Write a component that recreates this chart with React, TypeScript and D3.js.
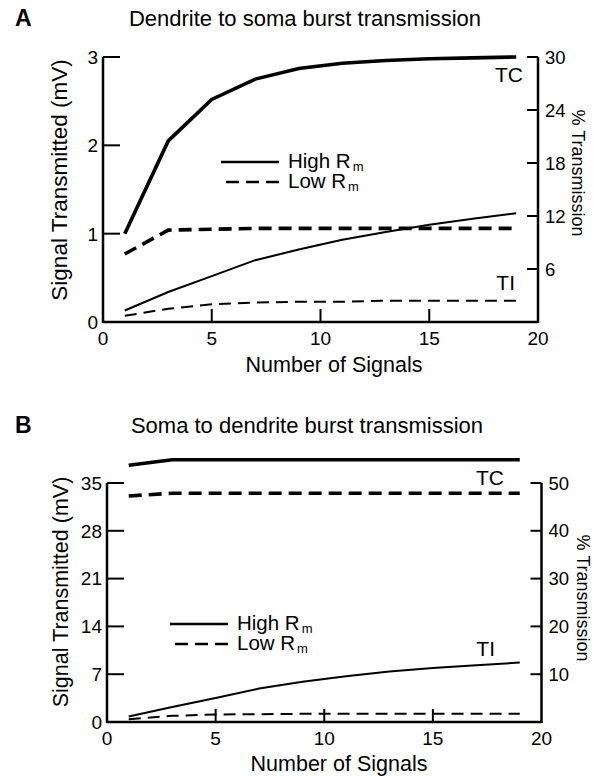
import { useEffect, useRef } from 'react'
import * as d3 from 'd3'

// number of signals (x)
const signals = [1, 3, 5, 7, 9, 11, 13, 15, 17, 19]

// Panel A - dendrite to soma (mV)
const aTcHigh = [1.0, 2.05, 2.52, 2.75, 2.87, 2.93, 2.96, 2.98, 2.99, 3.0]
const aTcLow = [0.77, 1.04, 1.05, 1.06, 1.06, 1.06, 1.06, 1.06, 1.06, 1.06]
const aTiHigh = [0.13, 0.34, 0.52, 0.7, 0.82, 0.93, 1.02, 1.1, 1.17, 1.23]
const aTiLow = [0.07, 0.15, 0.2, 0.22, 0.23, 0.23, 0.24, 0.24, 0.24, 0.24]

// Panel B - soma to dendrite (mV)
const bTcHigh = [37.6, 38.4, 38.4, 38.4, 38.4, 38.4, 38.4, 38.4, 38.4, 38.4]
const bTcLow = [33.1, 33.5, 33.5, 33.5, 33.5, 33.5, 33.5, 33.5, 33.5, 33.5]
const bTiHigh = [0.8, 2.2, 3.5, 4.9, 5.9, 6.7, 7.4, 7.9, 8.3, 8.7]
const bTiLow = [0.4, 0.9, 1.1, 1.15, 1.2, 1.2, 1.2, 1.2, 1.2, 1.2]

const xTicks = [0, 5, 10, 15, 20]
const aLeftTicks = [0, 1, 2, 3]
const aRightTicks = [6, 12, 18, 24, 30]
const bLeftTicks = [0, 7, 14, 21, 28, 35]
const bRightTicks = [10, 20, 30, 40, 50]

const FONT = 'Liberation Sans, Arial, Helvetica, sans-serif'

function drawPanel(svg, p) {
  const g = svg.append('g')
  const x = d3.scaleLinear().domain([0, 20]).range([p.left, p.right])
  const yL = d3.scaleLinear().domain([0, p.leftMax]).range([p.bottom, p.top])
  const yR = d3.scaleLinear().domain([0, p.rightMax]).range([p.bottom, p.top])

  // panel letter + title
  g.append('text').attr('x', 15).attr('y', p.titleY)
    .attr('font-size', 23).attr('font-weight', 'bold').text(p.letter)
  g.append('text').attr('x', p.titleX).attr('y', p.titleY)
    .attr('text-anchor', 'middle').attr('font-size', 22).text(p.title)

  // axes lines
  const axisStroke = 2.5
  g.append('line').attr('x1', x(0)).attr('x2', x(20)).attr('y1', p.bottom).attr('y2', p.bottom)
    .attr('stroke', '#000').attr('stroke-width', axisStroke)
  g.append('line').attr('x1', x(0)).attr('x2', x(0)).attr('y1', p.bottom + 1).attr('y2', yL(p.leftMax))
    .attr('stroke', '#000').attr('stroke-width', axisStroke)
  g.append('line').attr('x1', x(20)).attr('x2', x(20)).attr('y1', p.bottom + 1).attr('y2', yR(p.rightMax))
    .attr('stroke', '#000').attr('stroke-width', axisStroke)

  // x ticks
  xTicks.forEach(t => {
    if (t > 0 && t < 20) {
      g.append('line').attr('x1', x(t)).attr('x2', x(t)).attr('y1', p.bottom).attr('y2', p.bottom - 13)
        .attr('stroke', '#000').attr('stroke-width', 2)
    }
    g.append('text').attr('x', x(t)).attr('y', p.bottom + 23)
      .attr('text-anchor', 'middle').attr('font-size', 19).text(t)
  })

  // left ticks
  p.leftTicks.forEach(t => {
    g.append('line').attr('x1', x(0)).attr('x2', x(0) + 17).attr('y1', yL(t)).attr('y2', yL(t))
      .attr('stroke', '#000').attr('stroke-width', 2)
    g.append('text').attr('x', x(0) - 5).attr('y', yL(t)).attr('dy', '0.36em')
      .attr('text-anchor', 'end').attr('font-size', 19).text(t)
  })

  // right ticks
  p.rightTicks.forEach(t => {
    g.append('line').attr('x1', x(20)).attr('x2', x(20) - 11).attr('y1', yR(t)).attr('y2', yR(t))
      .attr('stroke', '#000').attr('stroke-width', 2)
    g.append('text').attr('x', x(20) + 7).attr('y', yR(t)).attr('dy', '0.36em')
      .attr('font-size', 18.5).text(t)
  })

  // axis titles
  g.append('text').attr('x', p.xTitleX).attr('y', p.xTitleY)
    .attr('text-anchor', 'middle').attr('font-size', 21.5).text('Number of Signals')
  g.append('text').attr('transform', `translate(${p.yTitleX},${p.yTitleY}) rotate(-90)`)
    .attr('text-anchor', 'middle').attr('font-size', p.yTitleSize).text('Signal Transmitted (mV)')
  g.append('text').attr('transform', `translate(${p.rTitleX},${p.rTitleY}) rotate(90)`)
    .attr('text-anchor', 'middle').attr('font-size', 18).text('% Transmission')

  // series
  const line = d3.line().x(d => x(d[0])).y(d => yL(d[1]))
  const series = [
    { v: p.tcHigh, w: 3.6, dash: null },
    { v: p.tcLow, w: 3.6, dash: '13,7' },
    { v: p.tiHigh, w: 2, dash: null },
    { v: p.tiLow, w: 2, dash: '12,7' },
  ]
  series.forEach(s => {
    g.append('path')
      .attr('d', line(signals.map((xv, i) => [xv, s.v[i]])))
      .attr('fill', 'none').attr('stroke', '#000').attr('stroke-width', s.w)
      .attr('stroke-dasharray', s.dash)
  })

  // TC / TI labels
  g.append('text').attr('x', p.tcX).attr('y', p.tcY).attr('text-anchor', 'end')
    .attr('font-size', 21).text('TC')
  g.append('text').attr('x', p.tiX).attr('y', p.tiY).attr('text-anchor', 'end')
    .attr('font-size', 21).text('TI')

  // legend
  const lg = g.append('g').attr('transform', `translate(${p.legX},${p.legY})`)
  lg.append('line').attr('x1', 0).attr('x2', 58).attr('y1', 0).attr('y2', 0)
    .attr('stroke', '#000').attr('stroke-width', 2.4)
  lg.append('line').attr('x1', 5).attr('x2', 58).attr('y1', 20).attr('y2', 20)
    .attr('stroke', '#000').attr('stroke-width', 2.4).attr('stroke-dasharray', '13,7')
  const labels = ['High R', 'Low R']
  labels.forEach((l, i) => {
    const t = lg.append('text').attr('x', 67).attr('y', 6 + i * 20).attr('font-size', 20.5).attr('fill', '#000')
    t.append('tspan').attr('fill', '#000').text(l)
    t.append('tspan').attr('fill', '#000').attr('dx', 2).attr('dy', 3).attr('font-size', 13).text('m')
  })
}

export default function App() {
  const svgRef = useRef(null)

  useEffect(() => {
    const svg = d3.select(svgRef.current)
    svg.selectAll('*').remove()
    svg.attr('font-family', FONT).attr('fill', '#000')

    drawPanel(svg, {
      letter: 'A', title: 'Dendrite to soma burst transmission', titleX: 305, titleY: 26,
      left: 103, right: 538, top: 57, bottom: 322,
      leftMax: 3, rightMax: 30, leftTicks: aLeftTicks, rightTicks: aRightTicks,
      xTitleX: 334, xTitleY: 372, yTitleX: 67, yTitleY: 180, yTitleSize: 22.5,
      rTitleX: 572, rTitleY: 173,
      tcHigh: aTcHigh, tcLow: aTcLow, tiHigh: aTiHigh, tiLow: aTiLow,
      tcX: 523, tcY: 82, tiX: 515, tiY: 290,
      legX: 221, legY: 162,
    })

    drawPanel(svg, {
      letter: 'B', title: 'Soma to dendrite burst transmission', titleX: 307, titleY: 433,
      left: 107, right: 541.5, top: 483, bottom: 722,
      leftMax: 35, rightMax: 50, leftTicks: bLeftTicks, rightTicks: bRightTicks,
      xTitleX: 339, xTitleY: 771, yTitleX: 68, yTitleY: 592, yTitleSize: 21.5,
      rTitleX: 577, rTitleY: 598,
      tcHigh: bTcHigh, tcLow: bTcLow, tiHigh: bTiHigh, tiLow: bTiLow,
      tcX: 504, tcY: 485, tiX: 495, tiY: 656,
      legX: 170, legY: 624,
    })
  }, [])

  return (
    <svg ref={svgRef} width={602} height={776}
      style={{ position: 'absolute', left: 0, top: 0, background: '#fff' }} />
  )
}
